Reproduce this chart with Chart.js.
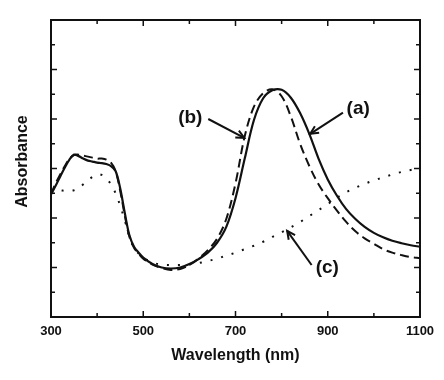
<!DOCTYPE html>
<html><head><meta charset="utf-8">
<script src="https://cdn.jsdelivr.net/npm/chart.js@4.4.1/dist/chart.umd.min.js"></script>
<style>html,body{margin:0;padding:0;background:#fff}#wrap{width:444px;height:380px;position:relative}</style>
</head><body><div id="wrap"><canvas id="c" width="444" height="380"></canvas></div>
<script>
const wavelengths = [300,310,320,330,340,350,360,370,380,390,400,410,420,430,440,450,460,470,480,490,500,520,540,560,580,600,620,640,660,680,700,720,740,760,780,800,820,840,860,880,900,920,940,960,980,1000,1020,1040,1060,1080,1100];
const seriesA = [2.48,2.65,2.84,3.02,3.18,3.28,3.25,3.20,3.16,3.14,3.12,3.11,3.09,3.05,2.95,2.60,2.10,1.65,1.42,1.30,1.20,1.07,1.00,0.98,1.00,1.07,1.17,1.30,1.50,1.82,2.40,3.20,3.98,4.42,4.58,4.59,4.43,4.12,3.70,3.20,2.78,2.45,2.18,1.98,1.82,1.70,1.61,1.54,1.49,1.45,1.42];
const seriesB = [2.48,2.70,2.88,3.05,3.20,3.27,3.28,3.26,3.24,3.22,3.20,3.20,3.18,3.12,2.95,2.55,2.05,1.62,1.40,1.28,1.18,1.06,0.99,0.95,0.97,1.05,1.18,1.35,1.58,1.98,2.70,3.65,4.25,4.52,4.60,4.46,4.05,3.50,3.05,2.68,2.40,2.15,1.92,1.73,1.59,1.48,1.37,1.30,1.25,1.21,1.19];
const seriesC = [2.52,2.56,2.56,2.55,2.55,2.56,2.60,2.68,2.76,2.83,2.88,2.87,2.80,2.68,2.50,2.25,1.95,1.62,1.40,1.28,1.20,1.10,1.06,1.05,1.05,1.06,1.09,1.13,1.18,1.24,1.30,1.37,1.44,1.52,1.62,1.71,1.81,1.92,2.04,2.16,2.28,2.41,2.52,2.61,2.69,2.76,2.82,2.88,2.93,2.97,3.01];
const xTickLabels = [300,500,700,900,1100];
const xMinorTicks = [400,600,800,1000];
const yMajorTicks = [1,2,3,4,5];
const yMinorTicks = [0.5,1.5,2.5,3.5,4.5,5.5];
// annotation labels and arrows, in data units
const annotationText = ['(a)','(b)','(c)'];
const annotationLabelX = [966,602,899];
const annotationLabelY = [4.21,4.02,0.99];
const arrowFromX = [933,641,865];
const arrowFromY = [4.13,4.00,1.05];
const arrowToX = [862,719,812];
const arrowToY = [3.70,3.62,1.74];

const toPts = arr => wavelengths.map((w,i)=>({x:w,y:arr[i]}));
const INK = '#111';
const FONT = '"Liberation Sans", Arial, sans-serif';

const framePlugin = {
  id: 'frame',
  afterDatasetsDraw(chart){
    const {ctx, chartArea:a, scales:{x,y}} = chart;
    ctx.save();
    ctx.strokeStyle = INK;
    ctx.lineWidth = 2;
    ctx.strokeRect(a.left, a.top, a.right-a.left, a.bottom-a.top);
    ctx.lineWidth = 1.5;
    const seg = (x1,y1,x2,y2)=>{ctx.beginPath();ctx.moveTo(x1,y1);ctx.lineTo(x2,y2);ctx.stroke();};
    xTickLabels.forEach(v=>{const p=x.getPixelForValue(v); seg(p,a.bottom,p,a.bottom-6); seg(p,a.top,p,a.top+6);});
    xMinorTicks.forEach(v=>{const p=x.getPixelForValue(v); seg(p,a.bottom,p,a.bottom-4); seg(p,a.top,p,a.top+4);});
    yMajorTicks.forEach(v=>{const p=y.getPixelForValue(v); seg(a.left,p,a.left+6,p); seg(a.right,p,a.right-6,p);});
    yMinorTicks.forEach(v=>{const p=y.getPixelForValue(v); seg(a.left,p,a.left+4,p); seg(a.right,p,a.right-4,p);});
    ctx.fillStyle = INK;
    ctx.font = 'bold 19px ' + FONT;
    ctx.textAlign = 'center';
    ctx.textBaseline = 'middle';
    ctx.lineWidth = 2;
    annotationText.forEach((t,i)=>{
      ctx.fillText(t, x.getPixelForValue(annotationLabelX[i]), y.getPixelForValue(annotationLabelY[i]));
      const x1=x.getPixelForValue(arrowFromX[i]), y1=y.getPixelForValue(arrowFromY[i]);
      const x2=x.getPixelForValue(arrowToX[i]), y2=y.getPixelForValue(arrowToY[i]);
      seg(x1,y1,x2,y2);
      const ang=Math.atan2(y2-y1,x2-x1), L=9, s=0.45;
      ctx.beginPath();
      ctx.moveTo(x2-L*Math.cos(ang-s), y2-L*Math.sin(ang-s));
      ctx.lineTo(x2,y2);
      ctx.lineTo(x2-L*Math.cos(ang+s), y2-L*Math.sin(ang+s));
      ctx.stroke();
    });
    ctx.font = 'bold 16px ' + FONT;
    ctx.translate(23, (a.top+a.bottom)/2 - 7);
    ctx.rotate(-Math.PI/2);
    ctx.fillText('Absorbance', 0, 0);
    ctx.restore();
  }
};

new Chart(document.getElementById('c'), {
  type: 'line',
  data: {
    datasets: [
      {label:'(c)', data: toPts(seriesC), borderColor: INK, borderWidth: 2, borderDash:[2,9], pointRadius:0, tension:0.35, fill:false},
      {label:'(b)', data: toPts(seriesB), borderColor: INK, borderWidth: 2, borderDash:[9,5], pointRadius:0, tension:0.35, fill:false},
      {label:'(a)', data: toPts(seriesA), borderColor: INK, borderWidth: 2.2, pointRadius:0, tension:0.35, fill:false}
    ]
  },
  options: {
    responsive: false,
    animation: false,
    devicePixelRatio: 1,
    layout: {padding: {top: 20, right: 24, left: 0, bottom: 0}},
    plugins: {legend: {display:false}, tooltip: {enabled:false}},
    scales: {
      x: {
        type: 'linear', min: 300, max: 1100,
        afterBuildTicks: s => { s.ticks = xTickLabels.map(v=>({value:v})); },
        afterFit: s => { s.height = 63; },
        grid: {display:false, drawTicks:false},
        border: {display:false},
        ticks: {color: INK, font: {family:FONT, size: 13, weight:'bold'}, padding: 7, maxRotation: 0, autoSkip:false, callback: v => String(v)},
        title: {display:true, text:'Wavelength (nm)', color: INK, font:{family:FONT, size:16, weight:'bold'}, padding:{top:0,bottom:15}}
      },
      y: {
        min: 0, max: 6,
        afterFit: s => { s.width = 51; },
        grid: {display:false, drawTicks:false},
        border: {display:false},
        ticks: {display:false}
      }
    }
  },
  plugins: [framePlugin]
});
</script>
</body></html>
